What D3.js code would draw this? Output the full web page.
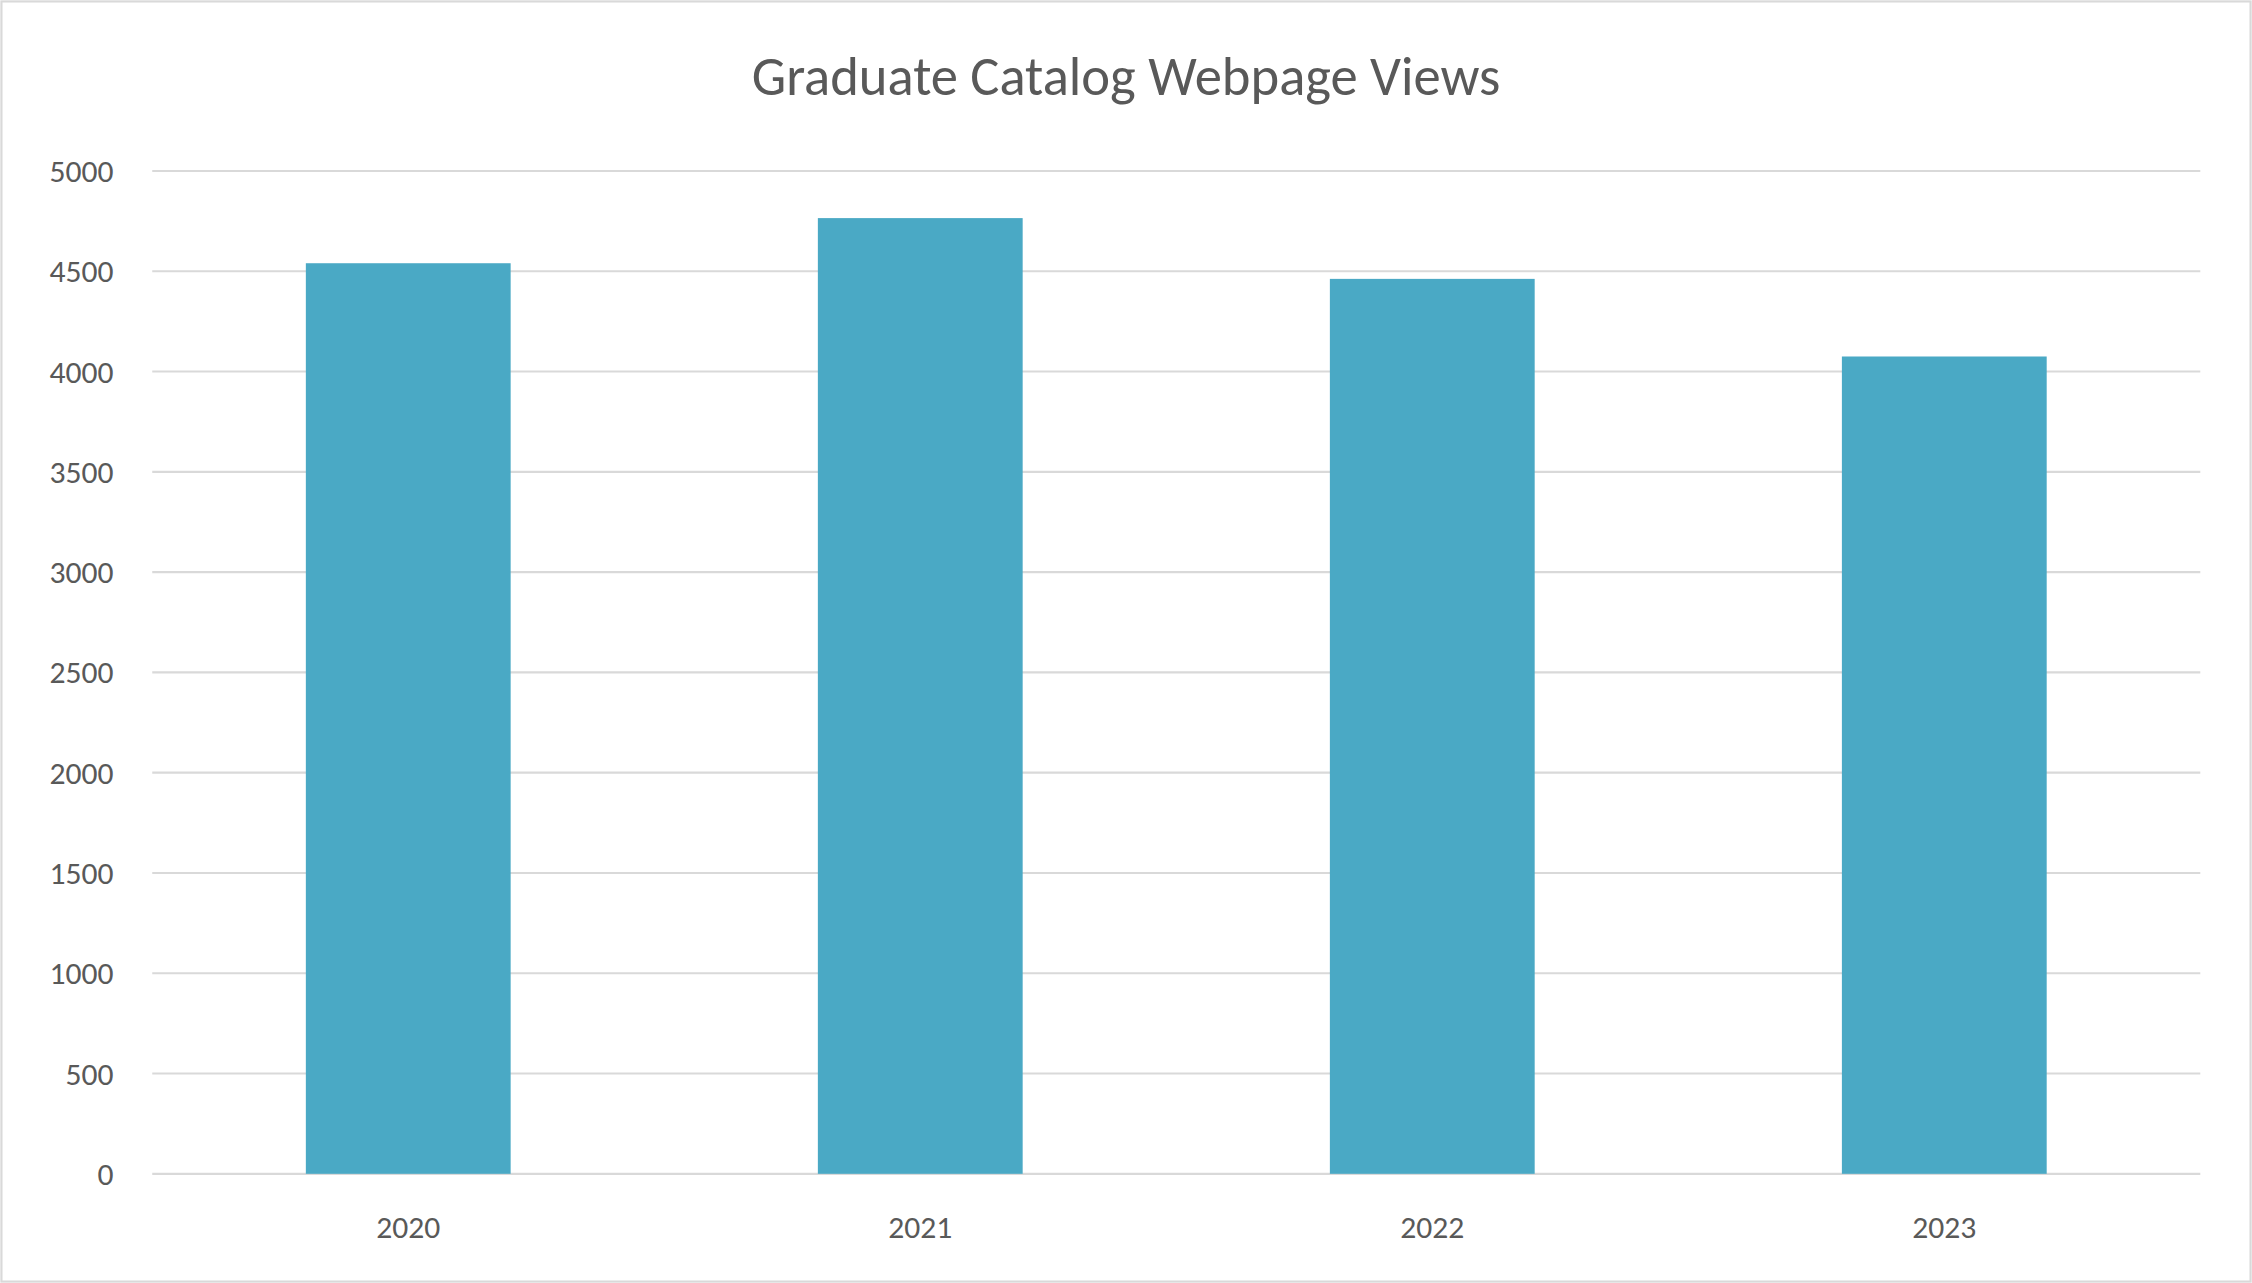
<!DOCTYPE html>
<html>
<head>
<meta charset="utf-8">
<script src="https://cdn.jsdelivr.net/npm/d3@7"></script>
<style>
  html, body { margin: 0; padding: 0; background: #fff; }
  svg { display: block; }
</style>
</head>
<body>
<svg id="chart" width="2252" height="1283"></svg>
<script>
const years = ["2020", "2021", "2022", "2023"];
const views = [4540, 4765, 4462, 4075];
const yTicks = [0, 500, 1000, 1500, 2000, 2500, 3000, 3500, 4000, 4500, 5000];

const W = 1568, H = 893;
const margins = { top: 119, right: 36, bottom: 76, left: 106 };
const svg = d3.select("#chart")
  .attr("viewBox", `0 0 ${W} ${H}`)
  .attr("preserveAspectRatio", "none");

const font = "Calibri, 'Liberation Sans', 'Open Sans', sans-serif";
const textColor = "#595959";

// Chart border
svg.append("rect")
  .attr("x", 1).attr("y", 1)
  .attr("width", W - 2).attr("height", H - 2)
  .attr("fill", "#fff")
  .attr("stroke", "#d9d9d9")
  .attr("stroke-width", 1.5);

// Title
svg.append("text")
  .attr("x", W / 2)
  .attr("y", 66)
  .attr("text-anchor", "middle")
  .style("font-family", font)
  .style("font-size", "38px")
  .style("fill", textColor)
  .text("Graduate Catalog Webpage Views");

const x = d3.scaleBand()
  .domain(years)
  .range([margins.left, W - margins.right])
  .paddingInner(0.6)
  .paddingOuter(0.3);

const y = d3.scaleLinear()
  .domain([0, 5000])
  .range([H - margins.bottom, margins.top]);

// Gridlines
svg.append("g")
  .selectAll("line")
  .data(yTicks)
  .join("line")
  .attr("x1", margins.left)
  .attr("x2", W - margins.right)
  .attr("y1", d => y(d))
  .attr("y2", d => y(d))
  .attr("stroke", "#d9d9d9")
  .attr("stroke-width", 1.5);

// Y tick labels
svg.append("g")
  .selectAll("text")
  .data(yTicks)
  .join("text")
  .attr("x", 79)
  .attr("y", d => y(d))
  .attr("dy", "0.35em")
  .attr("text-anchor", "end")
  .style("font-family", font)
  .style("font-size", "22px")
  .style("fill", textColor)
  .text(d => d);

// Bars
svg.append("g")
  .selectAll("rect")
  .data(years)
  .join("rect")
  .attr("x", d => x(d))
  .attr("width", x.bandwidth())
  .attr("y", (d, i) => y(views[i]))
  .attr("height", (d, i) => y(0) - y(views[i]))
  .attr("fill", "#4aa9c5");

// X labels
svg.append("g")
  .selectAll("text")
  .data(years)
  .join("text")
  .attr("x", d => x(d) + x.bandwidth() / 2)
  .attr("y", 862)
  .attr("text-anchor", "middle")
  .style("font-family", font)
  .style("font-size", "22px")
  .style("fill", textColor)
  .text(d => d);
</script>
</body>
</html>
